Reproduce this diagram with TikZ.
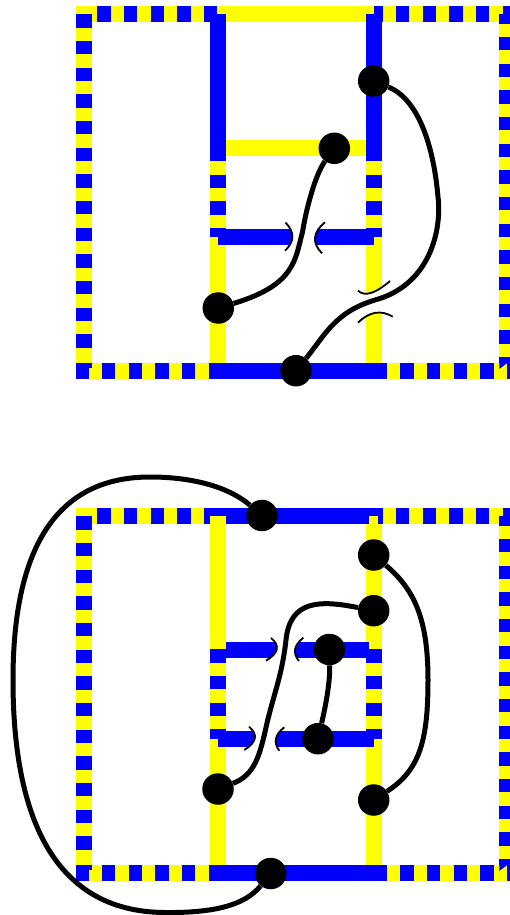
\documentclass[tikz,border=0pt]{standalone}
\usepackage{tikz}
\usetikzlibrary{calc}
\definecolor{RailBlue}{RGB}{0,0,255}
\definecolor{RailYellow}{RGB}{255,255,0}
\tikzset{
  rail/.style={line width=16pt},
  railtile/.style={rail,RailBlue,dash pattern=on 13.33pt off 13.33pt},
  wire/.style={line width=5pt,black},
  gapline/.style={line width=1.8pt,black},
  dot/.style={circle,fill=black,inner sep=0pt,minimum size=31.5pt}
}
\newcommand{\outerframe}{%
  \draw[rail,RailYellow] (76,14)--(218,14);
  \draw[railtile] (97.4,14)--(218,14);
  \draw[rail,RailYellow] (84,14)--(84,363);
  \draw[railtile] (84,14.3)--(84,348);
  \draw[rail,RailBlue] (76,371)--(92,371);
  \draw[rail,RailYellow] (92,371)--(218,371);
  \fill[RailYellow] (88.7,368) rectangle (92,379);
  \draw[railtile] (102,371)--(218,371);
  \draw[rail,RailYellow] (374,14)--(516,14);
  \draw[railtile,dash phase=4.6pt] (374,14)--(516,14);
  \draw[rail,RailYellow] (507,14)--(507,363);
  \draw[railtile,dash phase=3.63pt] (507,14)--(507,363);
  \draw[rail,RailYellow] (374,371)--(516,371);
  \draw[railtile] (373.7,371)--(516,371);
  \fill[RailBlue] (499.3,363)--(507.3,363)--(499.3,369)--cycle;}
\newcommand{\gaparc}[3]{(#1) .. controls ($(#1)!.667!(#2)$) and ($(#3)!.667!(#2)$) .. (#3)}
\newcommand{\wiregap}[6]{%
  \fill[white] \gaparc{#1}{#2}{#3} -- \gaparc{#4}{#5}{#6} -- cycle;
  \draw[gapline] \gaparc{#1}{#2}{#3} \gaparc{#4}{#5}{#6};}
\begin{document}
\begin{tikzpicture}[x=1pt,y=-1pt]
  \clip (0,0) rectangle (510,915);
  \outerframe
  \draw[rail,RailYellow] (218,14)--(374,14);
  \draw[rail,RailYellow] (226,148)--(366,148);
  \foreach \x in {218,374} {
    \draw[rail,RailBlue] (\x,14)--(\x,161.3);
    \draw[rail,RailYellow] (\x,161.3)--(\x,363);
    \draw[railtile] (\x,174.7)--(\x,237);
  }
  \draw[rail,RailBlue] (218,237)--(374,237);
  \draw[rail,RailBlue] (217,371)--(374,371);
  \wiregap{285.5,222.5}{299.5,237}{285,250.7}{322,253.3}{306.5,237.5}{325,222.3}
  \wiregap{358,290.7}{368,300}{390,281}{392.7,316.7}{375,306}{358,322.7}
  \node[dot] (upperRight) at (373.7,81) {};
  \node[dot] (upperBar) at (334.3,148.3) {};
  \node[dot] (upperLeft) at (218.3,308) {};
  \node[dot] (upperBottom) at (296,370.7) {};
  \draw[wire] (upperLeft) .. controls (295,285) and (295,260) .. (302.5,232) .. controls (306,210) and (315,175) .. (upperBar);
  \draw[wire] (upperBottom) .. controls (325,335) and (335,312) .. (375,300) .. controls (430,285) and (442,230) .. (438,197) .. controls (434,150) and (420,100) .. (upperRight);

  \begin{scope}[yshift=-502pt]
    \outerframe
    \draw[rail,RailBlue] (217,14)--(374,14);
  \end{scope}
  \fill[RailYellow] (369,516) rectangle (378.3,524);
  \draw[rail,RailYellow] (218,516)--(218,865);
  \draw[rail,RailYellow] (374,524)--(374,865);
  \foreach \x in {218,374} {
    \draw[railtile] (\x,649.4)--(\x,739);
  }
  \draw[rail,RailBlue] (226,650)--(369,650);
  \draw[rail,RailBlue] (218,739)--(374,739);
  \draw[rail,RailBlue] (217,873)--(374,873);
  \wiregap{271,638}{285,649.3}{266,660.7}{299,661}{289,649.3}{303.3,637.7}
  \wiregap{249,726.7}{263,738.3}{244.3,750}{279.3,750.7}{270,738.3}{284.3,727.3}
  \node[dot] (lowerTop) at (262,515.5) {};
  \node[dot] (lowerRightA) at (373.7,555) {};
  \node[dot] (lowerRightB) at (373.7,610.7) {};
  \node[dot] (lowerBarA) at (329.4,649.5) {};
  \node[dot] (lowerBarB) at (318,738.7) {};
  \node[dot] (lowerLeft) at (218,789) {};
  \node[dot] (lowerRightC) at (373.7,800) {};
  \node[dot] (lowerBottom) at (270.7,873.5) {};
  \draw[wire] (lowerTop) .. controls (230,488) and (195,477) .. (150,477) .. controls (55,477) and (13,550) .. (13,680) .. controls (13,810) and (50,912) .. (165,912.5) .. controls (215,913) and (245,905) .. (lowerBottom);
  \draw[wire] (lowerRightA) .. controls (415,590) and (428,620) .. (428,680) .. controls (428,740) and (420,770) .. (lowerRightC);
  \draw[wire] (lowerLeft) .. controls (255,775) and (260,755) .. (267,723) .. controls (275,690) and (282,675) .. (286,640) .. controls (290,600) and (320,600) .. (lowerRightB);
  \draw[wire] (lowerBarA) .. controls (330,680) and (327,700) .. (lowerBarB);
\end{tikzpicture}
\end{document}
